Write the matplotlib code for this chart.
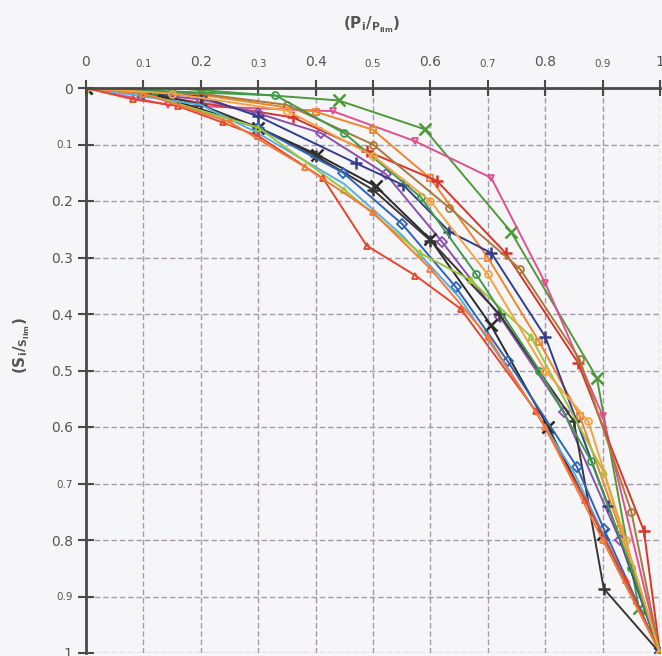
import matplotlib
matplotlib.use("Agg")
import matplotlib.pyplot as plt
import numpy as np

# tick values / labels
ticks = [0, 0.1, 0.2, 0.3, 0.4, 0.5, 0.6, 0.7, 0.8, 0.9, 1.0]
tick_labels = ['0', '0.1', '0.2', '0.3', '0.4', '0.5', '0.6', '0.7', '0.8', '0.9', '1']
x_small = ['0.1', '0.3', '0.5', '0.7', '0.9']
y_small = ['0.1', '0.7', '0.9']

# curves (Pi/Plim, Si/Slim)
green_x_p = [0, 0.15, 0.44, 0.59, 0.74, 0.89, 0.963, 1]
green_x_s = [0, 0.0, 0.022, 0.073, 0.254, 0.513, 0.92, 1]

pink_v_p = [0, 0.143, 0.43, 0.573, 0.706, 0.80, 0.90, 1]
pink_v_s = [0, 0.03, 0.041, 0.094, 0.159, 0.345, 0.58, 1]

orange_s_p = [0, 0.2, 0.4, 0.5, 0.6, 0.7, 0.79, 0.86, 0.93, 1]
orange_s_s = [0, 0.012, 0.042, 0.074, 0.16, 0.30, 0.45, 0.58, 0.78, 1]

red_plus_p = [0, 0.1, 0.36, 0.49, 0.611, 0.731, 0.857, 0.972, 1]
red_plus_s = [0, 0.01, 0.052, 0.112, 0.164, 0.292, 0.486, 0.784, 1]

purple_d_p = [0, 0.2, 0.3, 0.41, 0.522, 0.62, 0.722, 0.833, 0.93, 1]
purple_d_s = [0, 0.02, 0.045, 0.08, 0.152, 0.272, 0.406, 0.574, 0.80, 1]

navy_plus_p = [0, 0.2, 0.3, 0.47, 0.553, 0.633, 0.706, 0.80, 0.91, 1]
navy_plus_s = [0, 0.015, 0.05, 0.133, 0.172, 0.254, 0.292, 0.44, 0.74, 1]

black_x_p = [0, 0.1, 0.3, 0.403, 0.505, 0.6, 0.705, 0.805, 0.9, 1]
black_x_s = [0, 0.005, 0.07, 0.118, 0.174, 0.268, 0.419, 0.60, 0.79, 1]

black_plus_p = [0, 0.1, 0.2, 0.3, 0.4, 0.5, 0.6, 0.72, 0.85, 0.902, 1]
black_plus_s = [0, 0.005, 0.03, 0.07, 0.12, 0.18, 0.27, 0.40, 0.59, 0.886, 1]

blue_d_p = [0, 0.1, 0.3, 0.448, 0.551, 0.644, 0.735, 0.855, 0.902, 1]
blue_d_s = [0, 0.01, 0.07, 0.15, 0.241, 0.352, 0.484, 0.67, 0.78, 1]

lblue_p = [0, 0.2, 0.3, 0.45, 0.55, 0.65, 0.75, 0.85, 0.92, 1]
lblue_s = [0, 0.03, 0.08, 0.17, 0.26, 0.37, 0.52, 0.68, 0.83, 1]

lgreen_t_p = [0, 0.1, 0.3, 0.45, 0.582, 0.67, 0.775, 0.902, 1]
lgreen_t_s = [0, 0.01, 0.07, 0.18, 0.292, 0.34, 0.44, 0.68, 1]

red_t_p = [0, 0.082, 0.16, 0.238, 0.3, 0.413, 0.489, 0.574, 0.653, 0.784, 0.87, 0.94, 1]
red_t_s = [0, 0.02, 0.032, 0.061, 0.085, 0.16, 0.279, 0.332, 0.391, 0.572, 0.73, 0.87, 1]

orange_t_p = [0, 0.1, 0.25, 0.382, 0.5, 0.6, 0.7, 0.8, 0.9, 1]
orange_t_s = [0, 0.01, 0.06, 0.14, 0.22, 0.32, 0.44, 0.60, 0.80, 1]

tan_o_p = [0, 0.2, 0.35, 0.5, 0.633, 0.756, 0.86, 0.95, 1]
tan_o_s = [0, 0.01, 0.03, 0.10, 0.212, 0.32, 0.48, 0.75, 1]

dgreen_o_p = [0, 0.12, 0.33, 0.45, 0.583, 0.68, 0.79, 0.88, 0.95, 1]
dgreen_o_s = [0, 0.005, 0.013, 0.08, 0.193, 0.33, 0.50, 0.66, 0.85, 1]

lorange_o_p = [0, 0.15, 0.35, 0.5, 0.6, 0.7, 0.8, 0.875, 0.94, 1]
lorange_o_s = [0, 0.01, 0.04, 0.12, 0.20, 0.33, 0.50, 0.59, 0.80, 1]

series = [
    (green_x_p, green_x_s, '#4e9a3a', 'x'),
    (pink_v_p, pink_v_s, '#e0508f', 'v'),
    (orange_s_p, orange_s_s, '#f0852d', 's'),
    (red_plus_p, red_plus_s, '#d9342b', '+'),
    (purple_d_p, purple_d_s, '#8a4fb0', 'D'),
    (navy_plus_p, navy_plus_s, '#343c8c', '+'),
    (black_x_p, black_x_s, '#2a2a2a', 'x'),
    (black_plus_p, black_plus_s, '#3a3535', '+'),
    (blue_d_p, blue_d_s, '#2f63b8', 'D'),
    (lblue_p, lblue_s, '#57aee0', None),
    (lgreen_t_p, lgreen_t_s, '#9cc53a', '^'),
    (red_t_p, red_t_s, '#e8452c', '^'),
    (orange_t_p, orange_t_s, '#f07a3a', '^'),
    (tan_o_p, tan_o_s, '#a87a3a', 'o'),
    (dgreen_o_p, dgreen_o_s, '#3f9a4a', 'o'),
    (lorange_o_p, lorange_o_s, '#f4a340', 'o'),
]

fig = plt.figure(figsize=(6.62, 6.56), dpi=100, facecolor='#f6f6f9')
ax = fig.add_axes([86 / 662, 3 / 656, 574 / 662, 565 / 656])
ax.set_facecolor('#f6f6f9')

for p, s, c, m in series:
    if m in ('x', '+'):
        ax.plot(p, s, color=c, lw=1.4, marker=m, ms=8, mew=1.8)
    elif m is None:
        ax.plot(p, s, color=c, lw=1.4)
    else:
        ax.plot(p, s, color=c, lw=1.4, marker=m, ms=5, mfc='none', mew=1.3)

ax.set_xlim(0, 1)
ax.set_ylim(1, 0)
ax.xaxis.tick_top()
ax.set_xticks(ticks)
ax.set_yticks(ticks)
ax.set_xticklabels(tick_labels)
ax.set_yticklabels(tick_labels)
ax.tick_params(axis='both', direction='inout', length=11, width=1.5, color='#4a4a4a',
               labelcolor='#555555', labelsize=10)
ax.tick_params(axis='x', pad=8)
ax.tick_params(axis='y', pad=4)
for lbl in ax.get_xticklabels():
    if lbl.get_text() in x_small:
        lbl.set_fontsize(7.5)
for lbl in ax.get_yticklabels():
    if lbl.get_text() in y_small:
        lbl.set_fontsize(7.5)

ax.grid(True, color='#a49aaa', ls=(0, (4, 2)), lw=1.0)
ax.set_axisbelow(True)
for side in ('right', 'bottom'):
    ax.spines[side].set_visible(False)
for side in ('left', 'top'):
    ax.spines[side].set_color('#4a4a4a')
    ax.spines[side].set_linewidth(2)

fig.text(372 / 662, 1 - 25 / 656, r'$\mathbf{(P_i/_{P_{lim}})}$', ha='center', va='center',
         fontsize=11, color='#555555')
fig.text(22 / 662, 1 - 345 / 656, r'$\mathbf{(S_i/_{S_{lim}})}$', ha='center', va='center',
         fontsize=11, color='#555555', rotation=90)

fig.savefig('out.png', dpi=100, facecolor=fig.get_facecolor())
